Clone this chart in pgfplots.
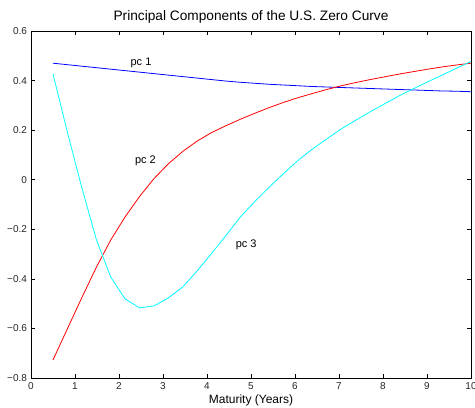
\documentclass[border=0pt]{standalone}
\usepackage{pgfplots}
\pgfplotsset{compat=1.18}
\usepackage{fontspec}
\setmainfont{Liberation Sans}

% maturities: 30 points from 0.5 to 10 years
\pgfplotstableread{
x      pcA    pcB     pcC
0.500  0.470  -0.727   0.427
0.828  0.464  -0.601   0.191
1.155  0.458  -0.476  -0.032
1.483  0.452  -0.354  -0.240
1.810  0.446  -0.244  -0.392
2.138  0.440  -0.150  -0.481
2.466  0.434  -0.068  -0.517
2.793  0.428   0.004  -0.509
3.121  0.422   0.064  -0.477
3.448  0.416   0.114  -0.433
3.776  0.410   0.156  -0.368
4.103  0.404   0.190  -0.298
4.431  0.398   0.218  -0.225
4.759  0.393   0.244  -0.150
5.086  0.389   0.268  -0.088
5.414  0.385   0.291  -0.030
5.741  0.382   0.312   0.025
6.069  0.379   0.331   0.078
6.397  0.376   0.348   0.124
6.724  0.374   0.364   0.165
7.052  0.372   0.379   0.205
7.379  0.370   0.392   0.240
7.707  0.368   0.404   0.274
8.034  0.366   0.415   0.306
8.362  0.364   0.426   0.338
8.690  0.362   0.436   0.367
9.017  0.360   0.446   0.395
9.345  0.358   0.455   0.422
9.672  0.357   0.463   0.450
10.000 0.355   0.470   0.477
}\pcdata

\begin{document}
\begin{tikzpicture}
\begin{axis}[
  name=ax,
  scale only axis,
  width=440pt, height=347pt,
  xmin=0, xmax=10, ymin=-0.8, ymax=0.6,
  xtick={0,1,...,10},
  ytick={-0.8,-0.6,-0.4,-0.2,0,0.2,0.4,0.6},
  yticklabels={−0.8,−0.6,−0.4,−0.2,0,0.2,0.4,0.6},
  tick align=inside,
  major tick length=4pt,
  tick style={black, line width=0.6pt},
  axis line style={black, line width=0.9pt},
  ticklabel style={font=\fontsize{10}{12}\selectfont, text=black!85},
  xticklabel style={yshift=-1pt},
  yticklabel style={xshift=-0.5pt},
  /pgf/number format/assume math mode=true,
  title={Principal Components of the U.S. Zero Curve},
  title style={font=\fontsize{13.7}{16}\selectfont, at={(0.5,1)}, anchor=base, yshift=4pt},
  xlabel={Maturity (Years)},
  xlabel style={font=\fontsize{12}{14}\selectfont, at={(0.5,0)}, anchor=base, yshift=-26pt},
  every axis plot/.append style={line width=0.8pt},
]
\addplot[color={rgb,255:red,0;green,0;blue,255}] table[x=x, y=pcA] {\pcdata};
\addplot[color={rgb,255:red,255;green,0;blue,0}] table[x=x, y=pcB] {\pcdata};
\addplot[color={rgb,255:red,0;green,255;blue,255}] table[x=x, y=pcC] {\pcdata};
\node[font=\fontsize{11}{13}\selectfont] at (axis cs:2.50,0.472) {pc 1};
\node[font=\fontsize{11}{13}\selectfont] at (axis cs:2.60,0.077) {pc 2};
\node[font=\fontsize{11}{13}\selectfont] at (axis cs:4.89,-0.263) {pc 3};
\end{axis}
\pgfresetboundingbox
\path (ax.south west) ++(-31pt,-30pt) coordinate (bl);
\path (ax.north east) ++(4pt,31pt) coordinate (tr);
\path[use as bounding box] (bl) rectangle (tr);
\end{tikzpicture}
\end{document}
